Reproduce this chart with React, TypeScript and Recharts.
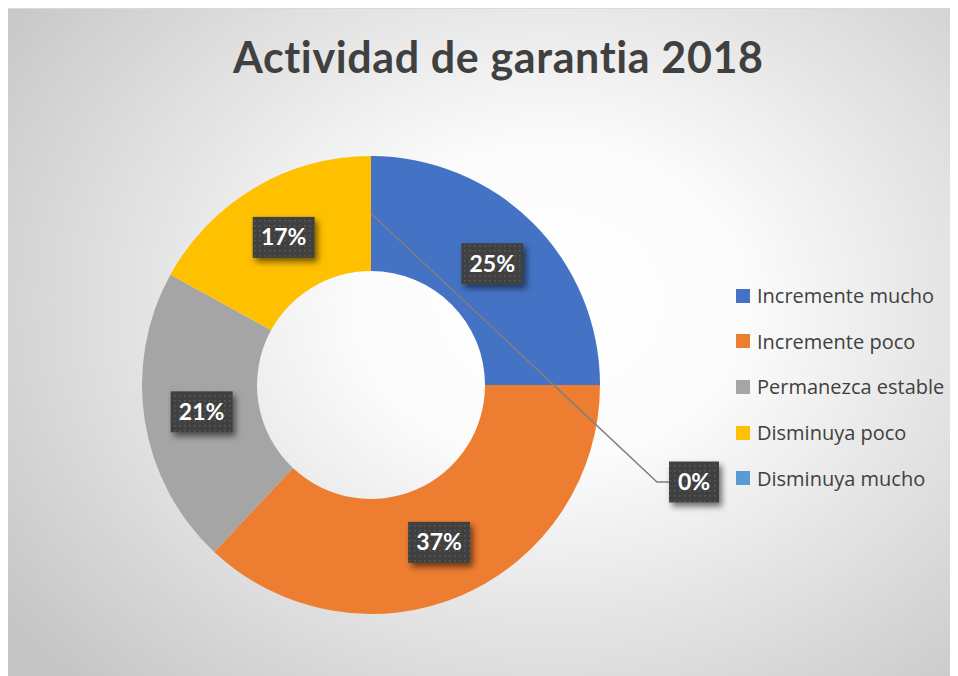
import { PieChart, Pie, Cell, Legend } from "recharts";

const CATEGORIES = [
  "Incremente mucho",
  "Incremente poco",
  "Permanezca estable",
  "Disminuya poco",
  "Disminuya mucho",
];
const VALUES = [25, 37, 21, 17, 0];
const COLORS = ["#4472C4", "#ED7D31", "#A5A5A5", "#FFC000", "#5B9BD5"];
const TITLE = "Actividad de garantia 2018";

const data = CATEGORIES.map((name, i) => ({ name, value: VALUES[i] }));

const RADIAN = Math.PI / 180;

function LabelBox({ x, y, text }: { x: number; y: number; text: string }) {
  const w = 26 + 12 * text.length;
  const h = 41;
  return (
    <g>
      <rect
        x={x - w / 2}
        y={y - h / 2}
        width={w}
        height={h}
        fill="url(#dots)"
        filter="url(#boxShadow)"
      />
      <text
        x={x}
        y={y + 8}
        textAnchor="middle"
        fill="#ffffff"
        fontFamily="Lato, sans-serif"
        fontWeight={700}
        fontSize={23}
      >
        {text}
      </text>
    </g>
  );
}

function renderLabel(props: any) {
  const { cx, cy, midAngle, innerRadius, outerRadius, percent } = props;
  const r = (innerRadius + outerRadius) / 2;
  const x = cx + r * Math.cos(-midAngle * RADIAN);
  const y = cy + r * Math.sin(-midAngle * RADIAN);
  const text = `${Math.round(percent * 100)}%`;
  if (percent === 0) {
    // zero slice: label pulled out with a leader line
    const bx = cx + 323;
    const by = cy + 97;
    return (
      <g>
        <polyline
          points={`${x},${y} ${cx + 286},${by} ${cx + 298},${by}`}
          fill="none"
          stroke="#7f7f7f"
          strokeWidth={1.5}
        />
        <LabelBox x={bx} y={by} text={text} />
      </g>
    );
  }
  return <LabelBox x={x} y={y} text={text} />;
}

function LegendList({ payload }: any) {
  const items = [...(payload || [])].sort(
    (a: any, b: any) => CATEGORIES.indexOf(a.value) - CATEGORIES.indexOf(b.value)
  );
  return (
    <div>
      {items.map((p: any) => (
        <div
          key={p.value}
          style={{ display: "flex", alignItems: "center", height: 45.6 }}
        >
          <span
            style={{
              width: 14,
              height: 14,
              background: p.color,
              marginRight: 7,
              display: "inline-block",
            }}
          />
          <span
            style={{
              fontFamily: "'Open Sans', sans-serif",
              fontSize: 20,
              color: "#404040",
              whiteSpace: "nowrap",
            }}
          >
            {p.value}
          </span>
        </div>
      ))}
    </div>
  );
}

export default function App() {
  return (
    <div
      style={{
        position: "relative",
        width: 950,
        height: 668,
        borderTop: "1px solid #d9d9d9",
        boxSizing: "border-box",
        background:
          "radial-gradient(ellipse 70% 80% at 57% 44%, #ffffff 0%, #fbfbfb 30%, #c6c6c6 100%)",
      }}
    >
      <style>{"html,body{overflow:hidden}"}</style>
      <svg
        width={950}
        height={667}
        style={{ position: "absolute", left: 0, top: 0 }}
      >
        <defs>
          <pattern id="dots" width="5" height="5" patternUnits="userSpaceOnUse">
            <rect width="5" height="5" fill="#404040" />
            <rect x="1" y="1" width="1.6" height="1.6" fill="#585858" />
          </pattern>
          <filter id="boxShadow" x="-30%" y="-30%" width="170%" height="170%">
            <feDropShadow dx="3" dy="4" stdDeviation="3" floodColor="#000" floodOpacity="0.55" />
          </filter>
        </defs>
        <text
          x={490}
          y={64}
          textAnchor="middle"
          fill="#404040"
          fontFamily="Lato, sans-serif"
          fontWeight={700}
          fontSize={43}
          textLength={530}
          lengthAdjust="spacing"
          style={{ fontVariantLigatures: "none" }}
        >
          {TITLE}
        </text>
      </svg>
      <div style={{ position: "absolute", left: 0, top: 0 }}>
        <PieChart
          width={950}
          height={667}
          margin={{ top: 0, right: 0, bottom: 0, left: 0 }}
        >
          <Pie
            data={data}
            dataKey="value"
            nameKey="name"
            cx={363}
            cy={376}
            innerRadius={114}
            outerRadius={229}
            startAngle={90}
            endAngle={-270}
            stroke="none"
            legendType="square"
            label={renderLabel}
            labelLine={false}
            isAnimationActive={false}
          >
            {data.map((d, i) => (
              <Cell key={d.name} fill={COLORS[i]} />
            ))}
          </Pie>
          <Legend
            layout="vertical"
            align="right"
            verticalAlign="top"
            content={<LegendList />}
            wrapperStyle={{ left: 728, top: 264, width: 222 }}
          />
        </PieChart>
      </div>
    </div>
  );
}
